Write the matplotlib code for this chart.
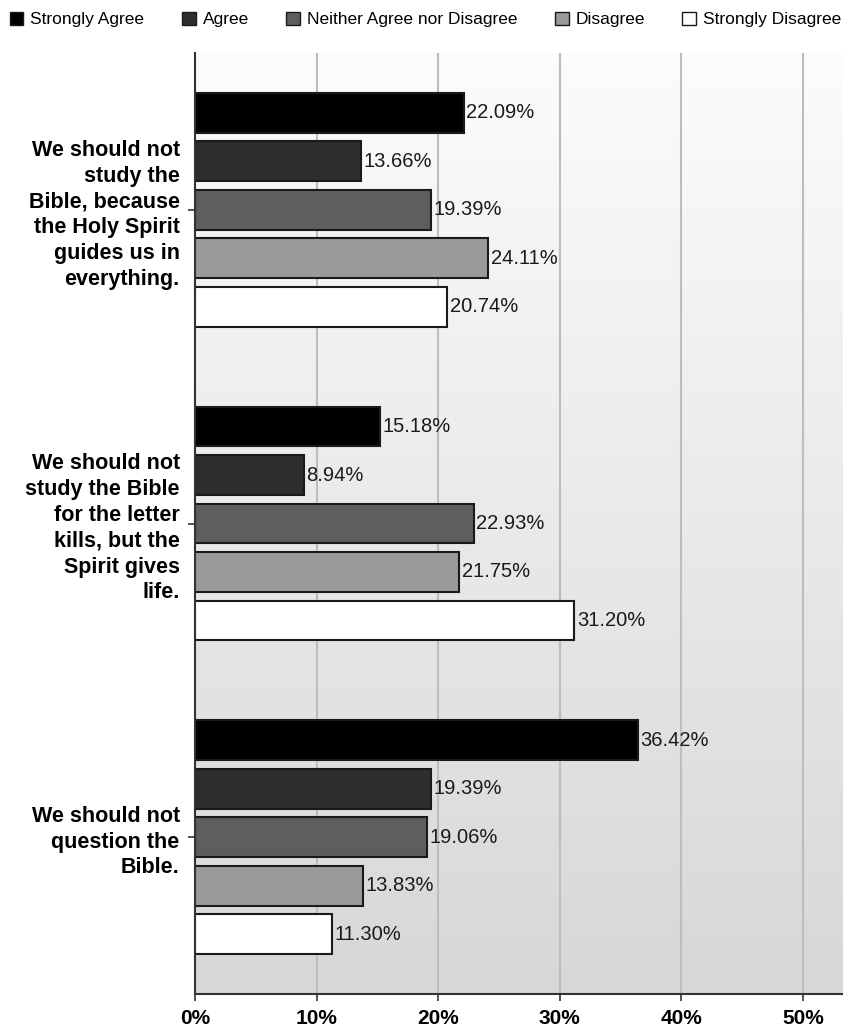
import numpy as np
import matplotlib.pyplot as plt
from matplotlib.patches import Patch

series = ['Strongly Agree', 'Agree', 'Neither Agree nor Disagree', 'Disagree', 'Strongly Disagree']
colors = ['#000000', '#2e2e2e', '#5e5e5e', '#9a9a9a', '#ffffff']
questions = [
    'We should not\nstudy the\nBible, because\nthe Holy Spirit\nguides us in\neverything.',
    'We should not\nstudy the Bible\nfor the letter\nkills, but the\nSpirit gives\nlife.',
    'We should not\nquestion the\nBible.',
]
values = [
    [22.09, 13.66, 19.39, 24.11, 20.74],
    [15.18, 8.94, 22.93, 21.75, 31.20],
    [36.42, 19.39, 19.06, 13.83, 11.30],
]
xticks = [0, 10, 20, 30, 40, 50]

plt.rcParams['font.family'] = ['Liberation Sans', 'DejaVu Sans']

fig = plt.figure(figsize=(8.51, 10.29), dpi=100)
ax = fig.add_axes([0.2291, 0.034, 0.7603, 0.9145])

xmax = 53.2
# vertical gradient background
grad = np.linspace(0.985, 0.84, 256).reshape(-1, 1)
ax.imshow(grad, cmap='gray', vmin=0, vmax=1, aspect='auto',
          extent=[0, xmax, 3, 0], zorder=0, interpolation='bicubic')

step = 0.1545
height = 0.127
for g, vals in enumerate(values):
    center = g + 0.5
    for j, v in enumerate(vals):
        y = center + (j - 2) * step
        ax.barh(y, v, height=height, color=colors[j], edgecolor='#1a1a1a',
                linewidth=1.5, zorder=3)
        ax.text(v + 0.2, y, '%.2f%%' % v, va='center', ha='left',
                fontsize=14.5, color='#1a1a1a', zorder=4)

ax.set_xlim(0, xmax)
ax.set_ylim(3, 0)
ax.set_xticks(xticks)
ax.set_xticklabels(['%d%%' % t for t in xticks], fontsize=15, fontweight='bold')
ax.set_yticks([0.5, 1.5, 2.5])
ax.set_yticklabels(questions, fontsize=15.5, fontweight='bold', linespacing=1.3)
ax.tick_params(axis='both', length=5, width=1.2, color='#333333', pad=6)
ax.xaxis.grid(True, color='#bdbdbd', linewidth=1.5, zorder=1)
ax.set_axisbelow(True)
for s in ['top', 'right']:
    ax.spines[s].set_visible(False)
for s in ['left', 'bottom']:
    ax.spines[s].set_color('#333333')
    ax.spines[s].set_linewidth(1.5)
    ax.spines[s].set_zorder(5)

handles = [Patch(facecolor=c, edgecolor='#1a1a1a', linewidth=1) for c in colors]
fig.legend(handles, series, loc='upper center', bbox_to_anchor=(0.5, 1.004), ncol=5,
           frameon=False, fontsize=12.5, handlelength=0.8,
           handleheight=0.8, handletextpad=0.4, columnspacing=2.15)

fig.savefig('out.png', dpi=100)
